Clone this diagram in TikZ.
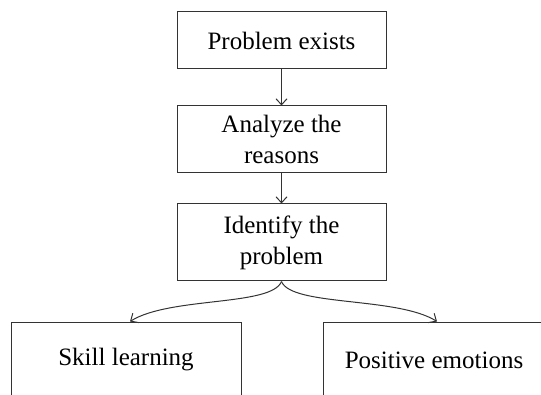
\documentclass[tikz,border=0pt]{standalone}
\usepackage{fontspec}
\setmainfont{Liberation Serif}
\usetikzlibrary{arrows.meta}
\begin{document}
\begin{tikzpicture}[x=1pt,y=1pt,line width=1pt,
  box/.style={draw=black!80,minimum width=209pt,align=center,inner sep=0pt,font=\fontsize{25}{31}\selectfont},
  arr/.style={draw=black!80,-{Straight Barb[length=6pt,width=11pt]}}]
\useasboundingbox (0,0) rectangle (541,394);
\clip (0,0) rectangle (541,394);
\node[box,minimum height=57pt] (exists) at (281.5,353.5) {Problem exists};
\node[box,minimum height=67pt] (reasons) at (281.5,254.5) {Analyze the\\reasons};
\node[box,minimum height=77pt] (identify) at (281.5,151.5) {Identify the\\problem};
\node[box,minimum width=230pt,minimum height=76pt] (skill) at (126,34) {Skill learning};
\node[box,minimum width=222pt,minimum height=76pt] (emotions) at (434,34) {Positive emotions};
\draw[arr] (exists) -- (reasons);
\draw[arr] (reasons) -- (identify);
\draw[arr] (identify.south) .. controls +(-10,-25) and +(40,25) .. ([xshift=4pt]skill.north);
\draw[arr] (identify.south) .. controls +(10,-25) and +(-40,25) .. ([xshift=3pt]emotions.north);
\end{tikzpicture}
\end{document}
